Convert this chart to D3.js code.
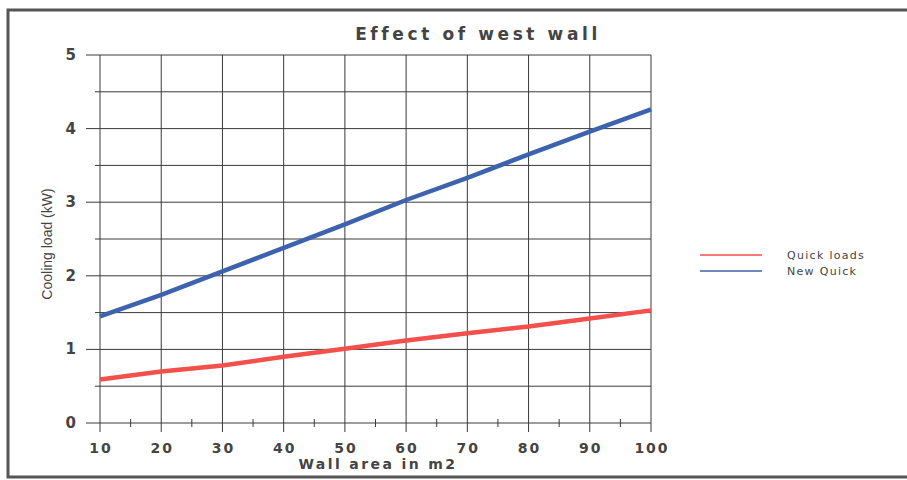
<!DOCTYPE html>
<html><head><meta charset="utf-8">
<script src="https://cdn.jsdelivr.net/npm/d3@7"></script>
<style>body{margin:0;background:#fff}svg{display:block}</style>
</head><body>
<script>
const wallArea = [10,20,30,40,50,60,70,80,90,100];
const quickLoads = [0.59,0.70,0.78,0.90,1.01,1.12,1.22,1.31,1.42,1.53];
const newQuick = [1.45,1.74,2.06,2.38,2.70,3.03,3.33,3.65,3.96,4.26];
const seriesNames = ["Quick loads","New Quick"];
const seriesColors = ["#f4504b","#3d63ae"];
const xTicks = [10,20,30,40,50,60,70,80,90,100];
const yTicks = [0,1,2,3,4,5];

const W=907,H=480;
const svg=d3.select("body").append("svg").attr("width",W).attr("height",H);
svg.append("rect").attr("x",8).attr("y",10).attr("width",W+5).attr("height",467)
  .attr("fill","none").attr("stroke","#555").attr("stroke-width",3);

const x=d3.scaleLinear().domain([10,100]).range([100,651]);
const y=d3.scaleLinear().domain([0,5]).range([423,55]);
const grid="#3a3a3a";
const g=svg.append("g");
d3.range(0,5.01,0.5).forEach(v=>{
  const major=Math.abs(v-Math.round(v))<1e-6;
  g.append("line").attr("x1",major?86:95).attr("x2",x(100)).attr("y1",y(v)).attr("y2",y(v))
   .attr("stroke",grid).attr("stroke-width",1);
});
xTicks.forEach(v=>{
  g.append("line").attr("x1",x(v)).attr("x2",x(v)).attr("y1",y(5)).attr("y2",y(0)+9)
   .attr("stroke",grid).attr("stroke-width",1);
});
d3.range(15,100,10).forEach(v=>{
  g.append("line").attr("x1",x(v)).attr("x2",x(v)).attr("y1",y(0)-4).attr("y2",y(0)+4)
   .attr("stroke",grid).attr("stroke-width",1);
});
const boldFont="'DejaVu Sans',Verdana,sans-serif";
xTicks.forEach(v=>{
  svg.append("text").attr("x",x(v)+1).attr("y",453).attr("text-anchor","middle")
   .attr("font-family",boldFont).attr("font-weight","bold").attr("font-size",14)
   .attr("letter-spacing","2px").attr("fill","#444").text(v);
});
yTicks.forEach(v=>{
  svg.append("text").attr("x",76).attr("y",y(v)+5).attr("text-anchor","end")
   .attr("font-family",boldFont).attr("font-weight","bold").attr("font-size",15)
   .attr("fill","#444").text(v);
});
const line=d3.line().x((d,i)=>x(wallArea[i])).y(d=>y(d));
[quickLoads,newQuick].forEach((s,k)=>{
  svg.append("path").attr("d",line(s)).attr("fill","none").attr("stroke",seriesColors[k])
   .attr("stroke-width",4.5).attr("stroke-linecap","butt").attr("stroke-linejoin","round");
});
svg.append("text").attr("x",478).attr("y",40).attr("text-anchor","middle")
  .attr("font-family",boldFont).attr("font-weight","bold").attr("font-size",17)
  .attr("letter-spacing","3.6px").attr("fill","#444").text("Effect of west wall");
svg.append("text").attr("x",378).attr("y",469).attr("text-anchor","middle")
  .attr("font-family",boldFont).attr("font-weight","bold").attr("font-size",14)
  .attr("letter-spacing","2.4px").attr("fill","#444").text("Wall area in m2");
svg.append("text").attr("transform","translate(52,244) rotate(-90)").attr("text-anchor","middle")
  .attr("font-family","'Liberation Sans Narrow','Liberation Sans',sans-serif").attr("font-size",14)
  .attr("fill","#444").text("Cooling load (kW)");
seriesNames.forEach((n,k)=>{
  const ly=255+k*16;
  svg.append("line").attr("x1",700).attr("x2",762).attr("y1",ly).attr("y2",ly)
   .attr("stroke",seriesColors[k]).attr("stroke-width",1.5);
  svg.append("text").attr("x",787).attr("y",ly+4).attr("font-family",boldFont)
   .attr("font-size",11).attr("letter-spacing","1.3px").attr("fill","#444").text(n);
});
</script>
</body></html>
